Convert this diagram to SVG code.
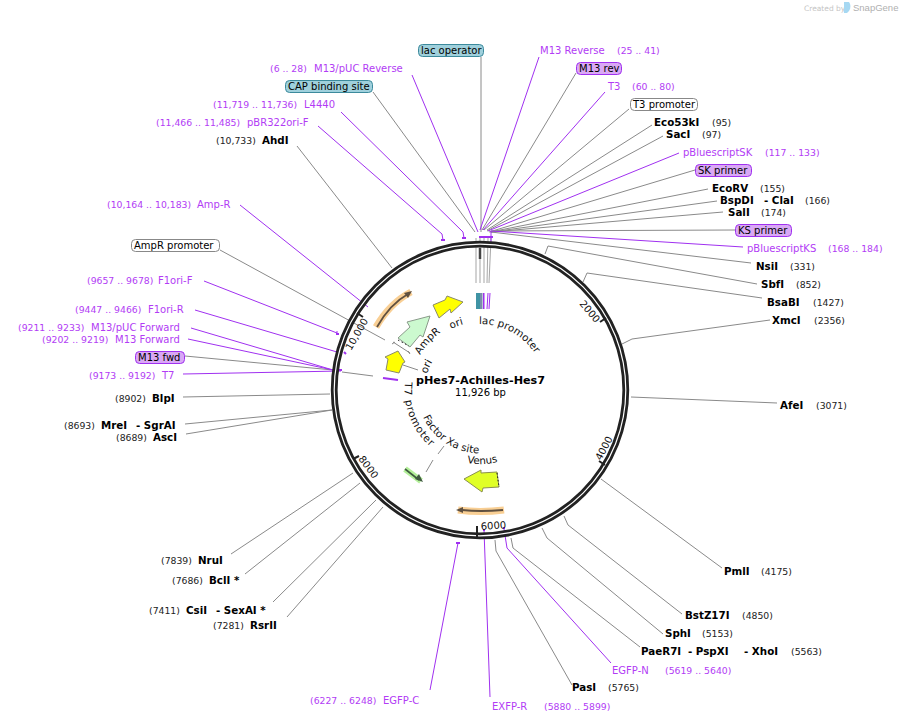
<svg xmlns="http://www.w3.org/2000/svg" width="901" height="723" viewBox="0 0 901 723">
<style>
text{font-family:"DejaVu Sans",Verdana,sans-serif;font-size:10px;fill:#000}
.b{font-weight:bold;font-size:10.3px}
.c{font-size:9.3px;fill:#222}
.p{fill:#b23cf5;font-size:10px}
.pc{fill:#b23cf5;font-size:9.3px}
.f{font-size:10.3px;fill:#111}
.t{font-size:10px;fill:#111}
.g{fill:none;stroke:#8a8a8a;stroke-width:1}
.v{fill:none;stroke:#a030f0;stroke-width:1}
</style>
<defs>
<path id="a1" d="M479,324 A66,66 0 0 1 546,390"/>
<path id="a2" d="M451,329 A68,68 0 0 1 480,322"/>
<path id="a3" d="M420,355 A70,70 0 0 1 480,320"/>
<path id="a4" d="M427,374 A55,55 0 0 1 461,338"/>
<path id="a5" d="M405,382 A75,75 0 0 0 480,465"/>
<path id="a6" d="M423,417 A63,63 0 0 0 500,450"/>
<path id="a7" d="M467,463 A74,74 0 0 0 517,454"/>
</defs>
<g id="watermark"><text x="804" y="11" style="font-size:7.5px;fill:#c4c4c4">Created by</text><path d="M844,2 h5 q3,4 0,9 l-2,2 h-3z" fill="#a6d8f2"/><text x="853" y="11" style="font-size:9.5px;fill:#b0b0b0;font-family:'Liberation Sans',sans-serif">SnapGene</text></g>
<g id="connectors">
<path class="g" d="M481,57V232M576,73L482,230M629,109L484,230M652,125L487,230M663,136L487,231M695,170L489,232M708,189L490,232M717,201L491,232M723,212L491,232M735,230L491,231M751,263L491,232M757,284L548,246L545,254M762,298L587,273L583,282M770,320L632,339L622,344M777,403L631,397M722,568L601,479M682,614L568,525L564,516M663,634L547,538L542,528M640,647L513,548L511,538M572,685L496,551L495,540M231,554L353,473M245,574L360,483M273,602L376,500M287,617L383,507M185,424L332,410M186,434L332,410M183,397L330,394M185,356L333,370M342,372L373,376M297,146L392,268M373,92L475,232M220,250L385,340M403,365L418,370M426,472L433,460M438,454L444,446"/>
<path class="g" style="stroke:#a5a5a5" d="M476,238V283M480,238V283M484,238V283M488,238L487,283M491,238L489,283"/>
<path d="M480,248V259" stroke="#444" stroke-width="2.5"/>
<path class="v" d="M539,57L480,230M605,92L483,230M679,153L488,231M743,247L491,231M412,75L478,232M318,126L442,234L443,240M341,112L463,232L464,238M240,205L368,307M204,281L337,333L337,331M195,310L337,352M191,328L333,370M188,339L333,370M183,374L341,371M611,663L507,548L504,529M490,697L484,530M430,690L458,543"/>
<path class="v" style="stroke-width:2" d="M479,237H493M441,240H445M462,238H466M456,543H460M336,334H339M333,370H342M344,352L346,354M383,378L398,380M503,528H505M483,530H485"/>
<path class="v" d="M491,231V245"/>
</g>
<g id="ring"><circle cx="480" cy="390" r="145.800" fill="none" stroke="#222" stroke-width="6.800"/><circle cx="480" cy="390" r="145.800" fill="none" stroke="#fff" stroke-width="1.200"/>
<path d="M600,322L606,318M599,461L605,465M477,537V526M359,456L353,459M363,317L357,313" stroke="#222" stroke-width="2"/></g>
<g id="ticks">
<text class="t" transform="translate(579,304) rotate(50)">2000</text>
<text class="t" transform="translate(601,461) rotate(-62)">4000</text>
<text class="t" transform="translate(481,530) rotate(-4)">6000</text>
<text class="t" transform="translate(358,459) rotate(53)">8000</text>
<text class="t" transform="translate(351,351) rotate(-60)">10,000</text>
</g>
<g id="feature-strip">
<rect x="476" y="293" width="4" height="16" fill="#3f93a4"/><rect x="480" y="293" width="2.500" height="16" fill="#7b8faa"/><rect x="483" y="293" width="1.500" height="16" fill="#a030f0"/><path d="M488,293L487,309M490,293L489,309" stroke="#a030f0" fill="none"/>
</g>
<g id="orange-top"><path d="M376,327Q390,303 411,292" fill="none" stroke="#f9cf94" stroke-width="7"/><path d="M377,327Q390,304 408,294" fill="none" stroke="#5f5040" stroke-width="1.800"/><path d="M412,291L404,293L408,298z" fill="#5f5040"/></g>
<g id="ori-1"><path d="M433,305L445,300L447,296L463,302L451,313L450,309L439,318z" fill="#ffff00" stroke="#8a8a6a"/></g>
<g id="AmpR"><path d="M430,316L407,322L410,327L398,338L410,347L420,335L423,337z" fill="#ccf9cf" stroke="#8a9a8a"/><path d="M398,340L409,346" stroke="#222" stroke-width="1" stroke-dasharray="1.500 2.500"/><path d="M393,342L410,353M392,344L395,342M408,351L410,354" stroke="#888" fill="none"/></g>
<g id="ori-2"><path d="M398,351L385,357L388,359L386,370L399,373L403,363L405,362z" fill="#ffff00" stroke="#8a8a6a"/></g>
<g id="Venus-arrow"><path d="M464,479L481,470L481,473L497,472L499,487L483,488L482,492z" fill="#e0ff26" stroke="#8a8f50"/><path d="M497,473L499,487" stroke="#222" stroke-dasharray="1.500 2"/></g>
<g id="orange-bottom"><path d="M458,510Q480,513 504,510" fill="none" stroke="#f9cf94" stroke-width="7"/><path d="M462,510Q480,512 503,510" fill="none" stroke="#5f5040" stroke-width="1.800"/><path d="M456,510L463,507L463,513z" fill="#5f5040"/></g>
<g id="green-small"><path d="M405,469L421,481" stroke="#b4f09a" stroke-width="6"/><path d="M405,469L419,480" stroke="#3f5a3f" stroke-width="1.600"/><path d="M423,482L415,479L419,474z" fill="#3f5a3f"/></g>
<g id="feature-labels">
<text class="f"><textPath href="#a1">lac promoter</textPath></text>
<text class="f"><textPath href="#a2">ori</textPath></text>
<text class="f"><textPath href="#a3">AmpR</textPath></text>
<text class="f"><textPath href="#a4">ori</textPath></text>
<text class="f" style="letter-spacing:.8px"><textPath href="#a5">T7 promoter</textPath></text>
<text class="f"><textPath href="#a6">Factor Xa site</textPath></text>
<text class="f"><textPath href="#a7">Venus</textPath></text>
</g>
<g id="title"><text x="480.500" y="384" text-anchor="middle" style="font-size:11.200px;font-weight:bold">pHes7-Achilles-Hes7</text><text x="480.500" y="396" text-anchor="middle" style="font-size:10px">11,926 bp</text></g>
<g id="box-labels">
<g id="lac-operator"><rect x="418.500" y="44.500" width="65" height="12" rx="4" fill="#9fd0dc" stroke="#3c8a9c"/><text x="421" y="54">lac operator</text></g>
<g id="M13-rev"><rect x="576.500" y="62.500" width="45" height="12" rx="4" fill="#d9a8f5" stroke="#a030f0"/><text x="579" y="72">M13 rev</text></g>
<g id="T3-promoter"><rect x="630.500" y="98.500" width="67" height="12" rx="4" fill="#fff" stroke="#888"/><text x="633" y="108">T3 promoter</text></g>
<g id="SK-primer"><rect x="695.500" y="164.500" width="56" height="12" rx="4" fill="#d9a8f5" stroke="#a030f0"/><text x="698" y="174">SK primer</text></g>
<g id="KS-primer"><rect x="735.500" y="224.500" width="56" height="12" rx="4" fill="#d9a8f5" stroke="#a030f0"/><text x="738" y="234">KS primer</text></g>
<g id="CAP"><rect x="285.500" y="80.500" width="87" height="12" rx="4" fill="#9fd0dc" stroke="#3c8a9c"/><text x="288" y="90">CAP binding site</text></g>
<g id="AmpR-promoter"><rect x="131.500" y="239.500" width="88" height="12" rx="4" fill="#fff" stroke="#888"/><text x="134" y="249">AmpR promoter</text></g>
<g id="M13-fwd"><rect x="135.500" y="351.500" width="49" height="12" rx="4" fill="#d9a8f5" stroke="#a030f0"/><text x="138" y="361">M13 fwd</text></g>
</g>
<g id="site-labels">
<text class="b" x="654" y="126">Eco53kI</text><text class="c" x="712" y="126">(95)</text>
<text class="b" x="666" y="138">SacI</text><text class="c" x="702" y="138">(97)</text>
<text class="b" x="712" y="192">EcoRV</text><text class="c" x="760" y="192">(155)</text>
<text class="b" x="720" y="204">BspDI</text><text class="b" x="764" y="204">- ClaI</text><text class="c" x="805" y="204">(166)</text>
<text class="b" x="728" y="216">SalI</text><text class="c" x="761" y="216">(174)</text>
<text class="b" x="756" y="270">NsiI</text><text class="c" x="790" y="270">(331)</text>
<text class="b" x="761" y="288">SbfI</text><text class="c" x="796" y="288">(852)</text>
<text class="b" x="767" y="306">BsaBI</text><text class="c" x="813" y="306">(1427)</text>
<text class="b" x="772" y="324">XmcI</text><text class="c" x="814" y="324">(2356)</text>
<text class="b" x="780" y="409">AfeI</text><text class="c" x="816" y="409">(3071)</text>
<text class="b" x="724" y="575">PmlI</text><text class="c" x="761" y="575">(4175)</text>
<text class="b" x="685" y="619">BstZ17I</text><text class="c" x="742" y="619">(4850)</text>
<text class="b" x="665" y="637">SphI</text><text class="c" x="702" y="637">(5153)</text>
<text class="b" x="641" y="655">PaeR7I</text><text class="b" x="688" y="655">- PspXI</text><text class="b" x="744" y="655">- XhoI</text><text class="c" x="791" y="655">(5563)</text>
<text class="b" x="572" y="691">PasI</text><text class="c" x="608" y="691">(5765)</text>
<text class="c" x="216" y="144">(10,733)</text><text class="b" x="262" y="144">AhdI</text>
<text class="c" x="115" y="402">(8902)</text><text class="b" x="152" y="402">BlpI</text>
<text class="c" x="64" y="429">(8693)</text><text class="b" x="101" y="429">MreI</text><text class="b" x="136" y="429">- SgrAI</text>
<text class="c" x="116" y="441">(8689)</text><text class="b" x="153" y="441">AscI</text>
<text class="c" x="161" y="564">(7839)</text><text class="b" x="198" y="564">NruI</text>
<text class="c" x="172" y="584">(7686)</text><text class="b" x="209" y="584">BclI *</text>
<text class="c" x="149" y="614">(7411)</text><text class="b" x="186" y="614">CsiI</text><text class="b" x="216" y="614">- SexAI *</text>
<text class="c" x="213" y="629">(7281)</text><text class="b" x="250" y="629">RsrII</text>
</g>
<g id="primer-labels">
<text class="p" x="540" y="54">M13 Reverse</text><text class="pc" x="617" y="54">(25 .. 41)</text>
<text class="p" x="608" y="90">T3</text><text class="pc" x="632" y="90">(60 .. 80)</text>
<text class="p" x="683" y="156">pBluescriptSK</text><text class="pc" x="765" y="156">(117 .. 133)</text>
<text class="p" x="747" y="252">pBluescriptKS</text><text class="pc" x="828" y="252">(168 .. 184)</text>
<text class="pc" x="270" y="72">(6 .. 28)</text><text class="p" x="314" y="72">M13/pUC Reverse</text>
<text class="pc" x="213" y="108">(11,719 .. 11,736)</text><text class="p" x="304" y="108">L4440</text>
<text class="pc" x="156" y="126">(11,466 .. 11,485)</text><text class="p" x="247" y="126">pBR322ori-F</text>
<text class="pc" x="107" y="208">(10,164 .. 10,183)</text><text class="p" x="197" y="208">Amp-R</text>
<text class="pc" x="87" y="284">(9657 .. 9678)</text><text class="p" x="158" y="284">F1ori-F</text>
<text class="pc" x="75" y="313">(9447 .. 9466)</text><text class="p" x="148" y="313">F1ori-R</text>
<text class="pc" x="18" y="331">(9211 .. 9233)</text><text class="p" x="91" y="331">M13/pUC Forward</text>
<text class="pc" x="42" y="343">(9202 .. 9219)</text><text class="p" x="115" y="343">M13 Forward</text>
<text class="pc" x="89" y="379">(9173 .. 9192)</text><text class="p" x="162" y="379">T7</text>
<text class="p" x="612" y="674">EGFP-N</text><text class="pc" x="665" y="674">(5619 .. 5640)</text>
<text class="p" x="492" y="710">EXFP-R</text><text class="pc" x="544" y="710">(5880 .. 5899)</text>
<text class="pc" x="310" y="704">(6227 .. 6248)</text><text class="p" x="383" y="704">EGFP-C</text>
</g>
</svg>
